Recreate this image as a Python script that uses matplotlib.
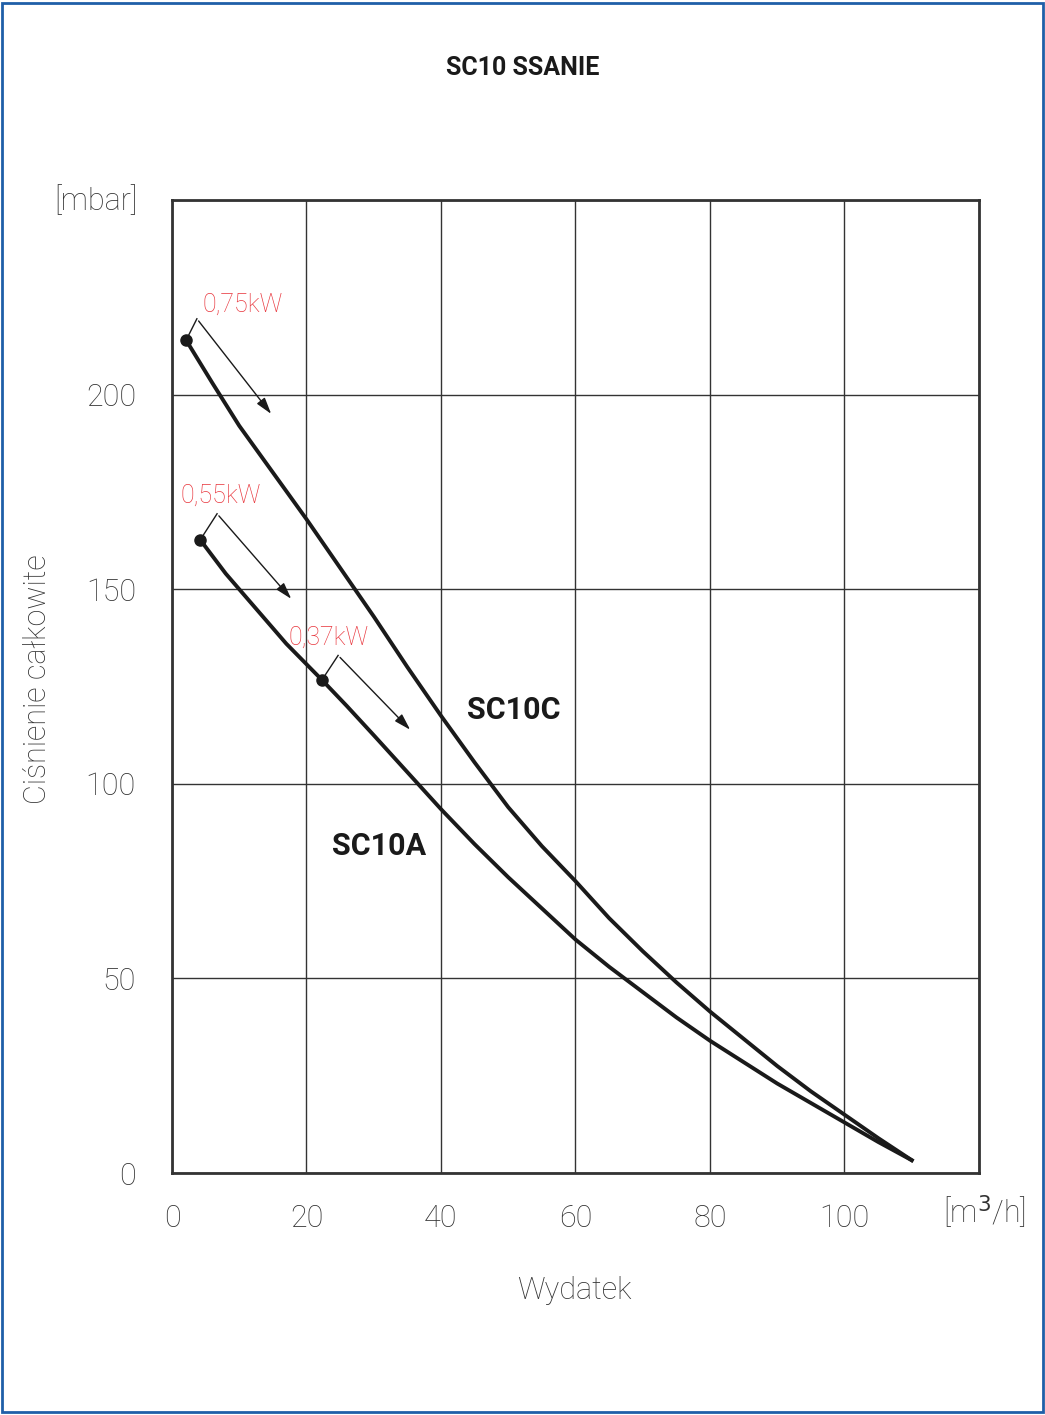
import matplotlib
matplotlib.use("Agg")
import matplotlib.pyplot as plt
from matplotlib.patches import Rectangle

plt.rcParams['font.family'] = ['Roboto', 'DejaVu Sans']

# curves
sc10c_x = [2.1, 6, 10, 15, 20, 25, 30, 35, 40, 45, 50, 55, 60, 65, 70, 75, 80, 85, 90, 95, 100, 105, 110]
sc10c_y = [214, 203, 192, 180, 168, 155.5, 143, 130, 117.5, 105.5, 94, 84, 75, 65.5, 57, 49, 41.5, 34.5, 27.5, 21, 15, 9, 3.3]
sc10a_x = [4.2, 8, 12, 17, 22.3, 26, 30, 35, 40, 45, 50, 55, 60, 65, 70, 75, 80, 85, 90, 95, 100, 105, 110]
sc10a_y = [162.7, 154, 146, 136, 126.7, 120, 112.5, 103, 93.5, 84.5, 76, 68, 60, 53, 46.5, 40, 34, 28.5, 23, 18, 13, 8, 3.3]

# power markers: text pos, dot, corner, arrow tip
markers = [
    ("0,75kW", (4.6, 223), (2.1, 214), (3.7, 219.5), (15.0, 194.5)),
    ("0,55kW", (1.3, 174), (4.2, 162.7), (6.7, 169.4), (18.0, 147)),
    ("0,37kW", (17.3, 137.5), (22.3, 126.7), (24.7, 133), (35.7, 113.4)),
]

fig = plt.figure(figsize=(10.45, 14.15), dpi=100)
fig.patches.append(Rectangle((0.002, 0.002), 0.996, 0.996, transform=fig.transFigure,
                             fill=False, edgecolor="#1f5fa8", linewidth=2))
ax = fig.add_axes([0.1646, 0.171, 0.7722, 0.6876])

ax.plot(sc10c_x, sc10c_y, color="#1a1a1a", lw=2.8)
ax.plot(sc10a_x, sc10a_y, color="#1a1a1a", lw=2.8)

for txt, tpos, dot, corner, tip in markers:
    ax.plot(*dot, 'o', color="#1a1a1a", ms=8)
    ax.plot([dot[0], corner[0]], [dot[1], corner[1]], color="#1a1a1a", lw=1)
    ax.annotate("", xy=tip, xytext=corner,
                arrowprops=dict(arrowstyle="-|>,head_length=1.0,head_width=0.3",
                                color="#1a1a1a", lw=1))
    ax.text(*tpos, txt, color="#e8343b", fontsize=18, va="center", ha="left", fontweight="light")

ax.text(43.9, 119, "SC10C", fontsize=22, fontweight="bold", va="center", color="#1a1a1a")
ax.text(23.8, 84, "SC10A", fontsize=22, fontweight="bold", va="center", color="#1a1a1a")

ax.set_xlim(0, 120)
ax.set_ylim(0, 250)
ax.set_xticks([0, 20, 40, 60, 80, 100, 120])
ax.set_xticklabels(["0", "20", "40", "60", "80", "100", ""])
ax.set_yticks([0, 50, 100, 150, 200, 250])
ax.set_yticklabels(["0", "50", "100", "150", "200", ""])
ax.tick_params(length=0, labelsize=22, colors="#333333", labelfontfamily="Roboto")
ax.tick_params(axis="x", pad=22)
ax.tick_params(axis="y", pad=26)
for lab in ax.get_xticklabels() + ax.get_yticklabels():
    lab.set_fontweight("light")
ax.grid(True, color="#333333", lw=1)
for s in ax.spines.values():
    s.set_linewidth(2)
    s.set_color("#333333")

light = dict(fontweight="light", color="#333333")
fig.text(0.5005, 0.952, "SC10 SSANIE", ha="center", va="center", fontsize=18, fontweight="bold", color="#1a1a1a")
fig.text(0.092, 0.858, "[mbar]", ha="center", va="center", fontsize=22, **light)
fig.text(0.982, 0.143, "[m$^3$/h]", ha="right", va="center", fontsize=22, **light)
fig.text(0.55, 0.088, "Wydatek", ha="center", va="center", fontsize=22, **light)
fig.text(0.036, 0.52, "Ciśnienie całkowite", ha="center", va="center", rotation=90, fontsize=22, **light)

fig.savefig("out.png", dpi=100)
